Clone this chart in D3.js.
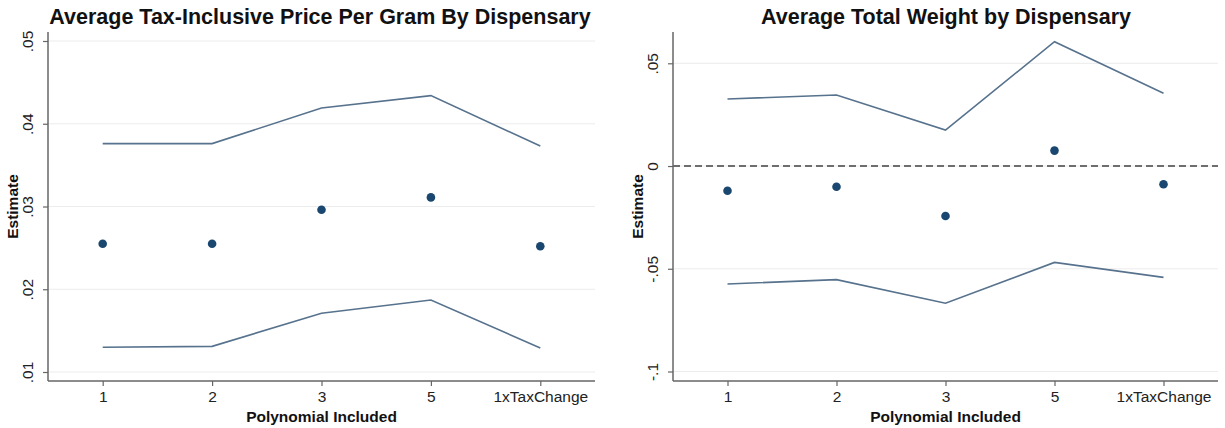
<!DOCTYPE html>
<html>
<head>
<meta charset="utf-8">
<script src="https://cdn.jsdelivr.net/npm/d3@7"></script>
<style>
  body { margin: 0; background: #fff; }
  svg { display: block; font-family: "Liberation Sans", Arial, Helvetica, sans-serif; }
</style>
</head>
<body>
<div class="chart"></div>
<script>
// categories shared by both panels
var categories = ["1", "2", "3", "5", "1xTaxChange"];

// left panel: price per gram
var priceUpper = [0.0376, 0.0376, 0.0419, 0.0434, 0.0373];
var priceEst   = [0.0255, 0.0255, 0.0296, 0.0311, 0.0252];
var priceLower = [0.0130, 0.0131, 0.0171, 0.0187, 0.0129];
var priceTicks = [0.01, 0.02, 0.03, 0.04, 0.05];

// right panel: total weight
var weightUpper = [0.0326, 0.0346, 0.0175, 0.0605, 0.0354];
var weightEst   = [-0.0120, -0.0101, -0.0243, 0.0075, -0.0089];
var weightLower = [-0.0574, -0.0553, -0.0668, -0.0469, -0.0542];
var weightTicks = [-0.1, -0.05, 0, 0.05];

var W = 1225, H = 428;

var svg = d3.select(".chart")
    .append("svg")
    .attr("width", W)
    .attr("height", H);

function fmt(v) {
    if (v === 0) return "0";
    var s = String(+v.toFixed(3));
    return s.replace(/^(-?)0\./, "$1.");
}

function panel(opts) {
    const left = opts.left, right = opts.right, top = 32, bottom = 381;

    const xScale = d3.scalePoint()
        .domain(categories)
        .range([left, right])
        .padding(0.5);

    const yScale = d3.scaleLinear()
        .domain(opts.domain)
        .range([opts.y0, opts.y1]);

    const g = svg.append("g");

    // grid lines
    g.selectAll("line.grid")
        .data(opts.ticks)
        .enter()
        .append("line")
        .attr("class", "grid")
        .attr("x1", left)
        .attr("x2", right)
        .attr("y1", d => yScale(d))
        .attr("y2", d => yScale(d))
        .attr("stroke", "#ececec")
        .attr("stroke-width", 1);

    if (opts.zeroLine) {
        g.append("line")
            .attr("x1", left)
            .attr("x2", right)
            .attr("y1", yScale(0))
            .attr("y2", yScale(0))
            .attr("stroke", "#6e6e6e")
            .attr("stroke-width", 2)
            .attr("stroke-dasharray", "7,4");
    }

    const line = d3.line()
        .x((d, i) => xScale(categories[i]))
        .y(d => yScale(d));

    [opts.upper, opts.lower].forEach(series => {
        g.append("path")
            .datum(series)
            .attr("d", line)
            .attr("fill", "none")
            .attr("stroke", "#57728d")
            .attr("stroke-width", 1.6);
    });

    g.selectAll("circle")
        .data(opts.est)
        .enter()
        .append("circle")
        .attr("cx", (d, i) => xScale(categories[i]))
        .attr("cy", d => yScale(d))
        .attr("r", 4.3)
        .attr("fill", "#1a476f");

    // y axis
    const yAxis = d3.axisLeft(yScale)
        .tickValues(opts.ticks)
        .tickSize(5)
        .tickPadding(4)
        .tickFormat(fmt);

    const ya = g.append("g")
        .attr("transform", `translate(${left},0)`)
        .call(yAxis);
    ya.select(".domain").remove();
    ya.append("line")
        .attr("x1", 0).attr("x2", 0)
        .attr("y1", top).attr("y2", bottom)
        .attr("stroke", "#666").attr("stroke-width", 1.5);
    ya.selectAll(".tick line").attr("stroke", "#666").attr("stroke-width", 1.2);
    ya.selectAll(".tick text")
        .attr("fill", "#222")
        .attr("font-size", 15.5)
        .attr("text-anchor", "middle")
        .attr("x", 0)
        .attr("dy", 0)
        .attr("transform", "translate(-19,0) rotate(-90)")
        .attr("dominant-baseline", "middle");

    // x axis
    const xAxis = d3.axisBottom(xScale)
        .tickSize(5)
        .tickPadding(5);
    const xa = g.append("g")
        .attr("transform", `translate(0,${bottom})`)
        .call(xAxis);
    xa.select(".domain").remove();
    xa.append("line")
        .attr("x1", left).attr("x2", right)
        .attr("y1", 0).attr("y2", 0)
        .attr("stroke", "#666").attr("stroke-width", 1.5);
    xa.selectAll(".tick line").attr("stroke", "#666").attr("stroke-width", 1.2);
    xa.selectAll(".tick text")
        .attr("fill", "#222")
        .attr("font-size", 15.5);

    // labels
    g.append("text")
        .text("Polynomial Included")
        .attr("x", (left + right) / 2)
        .attr("y", 422)
        .attr("text-anchor", "middle")
        .attr("font-size", 15.5)
        .attr("font-weight", "bold")
        .attr("fill", "#111");

    g.append("text")
        .text("Estimate")
        .attr("transform", `translate(${left - 30},${(top + bottom) / 2}) rotate(-90)`)
        .attr("text-anchor", "middle")
        .attr("font-size", 15.5)
        .attr("font-weight", "bold")
        .attr("fill", "#111");

    g.append("text")
        .text(opts.title)
        .attr("x", opts.titleX)
        .attr("y", 24)
        .attr("text-anchor", "middle")
        .attr("font-size", 21.5)
        .attr("font-weight", "bold")
        .attr("fill", "#111");
}

panel({
    left: 48, right: 595,
    domain: [0.01, 0.05], y0: 372, y1: 41,
    ticks: priceTicks,
    upper: priceUpper, est: priceEst, lower: priceLower,
    title: "Average Tax-Inclusive Price Per Gram By Dispensary",
    titleX: 320,
    zeroLine: false
});

panel({
    left: 673, right: 1218,
    domain: [-0.1, 0.05], y0: 371.5, y1: 63.3,
    ticks: weightTicks,
    upper: weightUpper, est: weightEst, lower: weightLower,
    title: "Average Total Weight by Dispensary",
    titleX: 946,
    zeroLine: true
});
</script>
</body>
</html>
